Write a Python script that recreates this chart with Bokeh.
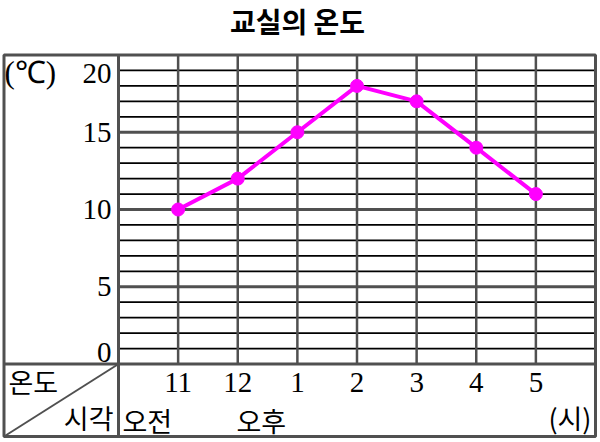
import numpy as np
from bokeh.plotting import figure
from bokeh.models import Range1d
from bokeh.core.properties import value
from bokeh.embed import file_html
from bokeh.resources import INLINE

# ---- data ----
title = "교실의 온도"
hours = ["11", "12", "1", "2", "3", "4", "5"]
temps = [10, 12, 15, 18, 17, 14, 11]
y_ticks = [0, 5, 10, 15, 20]
y_max = 20
y_unit = "(℃)"
x_unit = "(시)"
head_top = "온도"
head_bottom = "시각"
am_label = "오전"
pm_label = "오후"

# ---- layout (pixel anchors) ----
W, H = 600, 442
PX_LEFT, PX_RIGHT = 118.0, 595.0      # x = -1 and x = n
PX_TOP, PX_ZERO = 54.5, 363.5         # y = y_max and y = 0
n = len(hours)
xs = list(range(n))
kx = (PX_RIGHT - PX_LEFT) / (n + 1)
ky = (PX_ZERO - PX_TOP) / y_max


def dx(px):
    return -1 + (px - PX_LEFT) / kx


def dy(py):
    return (PX_ZERO - py) / ky


GRAY = "#505050"
KR = value("Noto Sans CJK KR")
SERIF = value("Liberation Serif")

p = figure(width=W, height=H,
           x_range=Range1d(dx(0), dx(W)), y_range=Range1d(dy(H), dy(0)),
           x_axis_type=None, y_axis_type=None,
           output_backend="svg", toolbar_location=None,
           min_border=0, outline_line_color=None)

x_left = dx(3.5)
y_bottom = dy(436)

# minor horizontal lines
minor = [v for v in range(1, y_max) if v % 5]
p.segment(x0=-1, x1=n, y0=minor, y1=minor, line_color="black", line_width=1.8)
# major horizontal lines
major = [v for v in range(5, y_max, 5)]
p.segment(x0=-1, x1=n, y0=major, y1=major, line_color=GRAY, line_width=3)
# vertical hour lines
p.segment(x0=xs, x1=xs, y0=0, y1=y_max, line_color=GRAY, line_width=2.5)
# table structure
p.segment(x0=-1, x1=-1, y0=y_bottom, y1=y_max, line_color=GRAY, line_width=3)
p.segment(x0=x_left, x1=n, y0=0, y1=0, line_color=GRAY, line_width=3)
p.quad(left=x_left, right=n, bottom=y_bottom, top=y_max,
       fill_color=None, line_color=GRAY, line_width=3)
p.segment(x0=x_left, y0=y_bottom, x1=-1, y1=0, line_color=GRAY, line_width=2)

# data line
p.line(xs, temps, line_color="#ff00ff", line_width=4)
p.scatter(xs, temps, size=13, fill_color="#ff00ff", line_color="#ff00ff")

# y tick labels
label_y = list(np.clip(y_ticks, 0.75, y_max - 1.2))
p.text(x=dx(111), y=label_y, text=[str(v) for v in y_ticks],
       text_font=SERIF, text_font_size="29px", text_align="right",
       text_baseline="middle", text_color="black")
# x tick labels
p.text(x=xs, y=dy(382), text=hours, text_font=SERIF, text_font_size="29px",
       text_align="center", text_baseline="middle", text_color="black")

# unit and header texts
p.text(x=dx(4), y=dy(72), text=[y_unit], text_font=SERIF, text_font_size="31px",
       text_align="left", text_baseline="middle", text_color="black")
p.text(x=dx(8), y=dy(381), text=[head_top], text_font=KR, text_font_size="27px",
       text_align="left", text_baseline="middle", text_color="black")
p.text(x=dx(113), y=dy(417), text=[head_bottom], text_font=KR, text_font_size="27px",
       text_align="right", text_baseline="middle", text_color="black")
p.text(x=dx(122), y=dy(420), text=[am_label], text_font=KR, text_font_size="27px",
       text_align="left", text_baseline="middle", text_color="black")
p.text(x=dx(236), y=dy(420), text=[pm_label], text_font=KR, text_font_size="27px",
       text_align="left", text_baseline="middle", text_color="black")
p.text(x=dx(591), y=dy(417), text=[x_unit], text_font=KR, text_font_size="27px",
       text_align="right", text_baseline="middle", text_color="black")
# title
p.text(x=dx(297), y=dy(20), text=[title], text_font=KR, text_font_size="28px",
       text_font_style="bold", text_align="center", text_baseline="middle",
       text_color="black")

open("out.html", "w").write(file_html(p, INLINE))
